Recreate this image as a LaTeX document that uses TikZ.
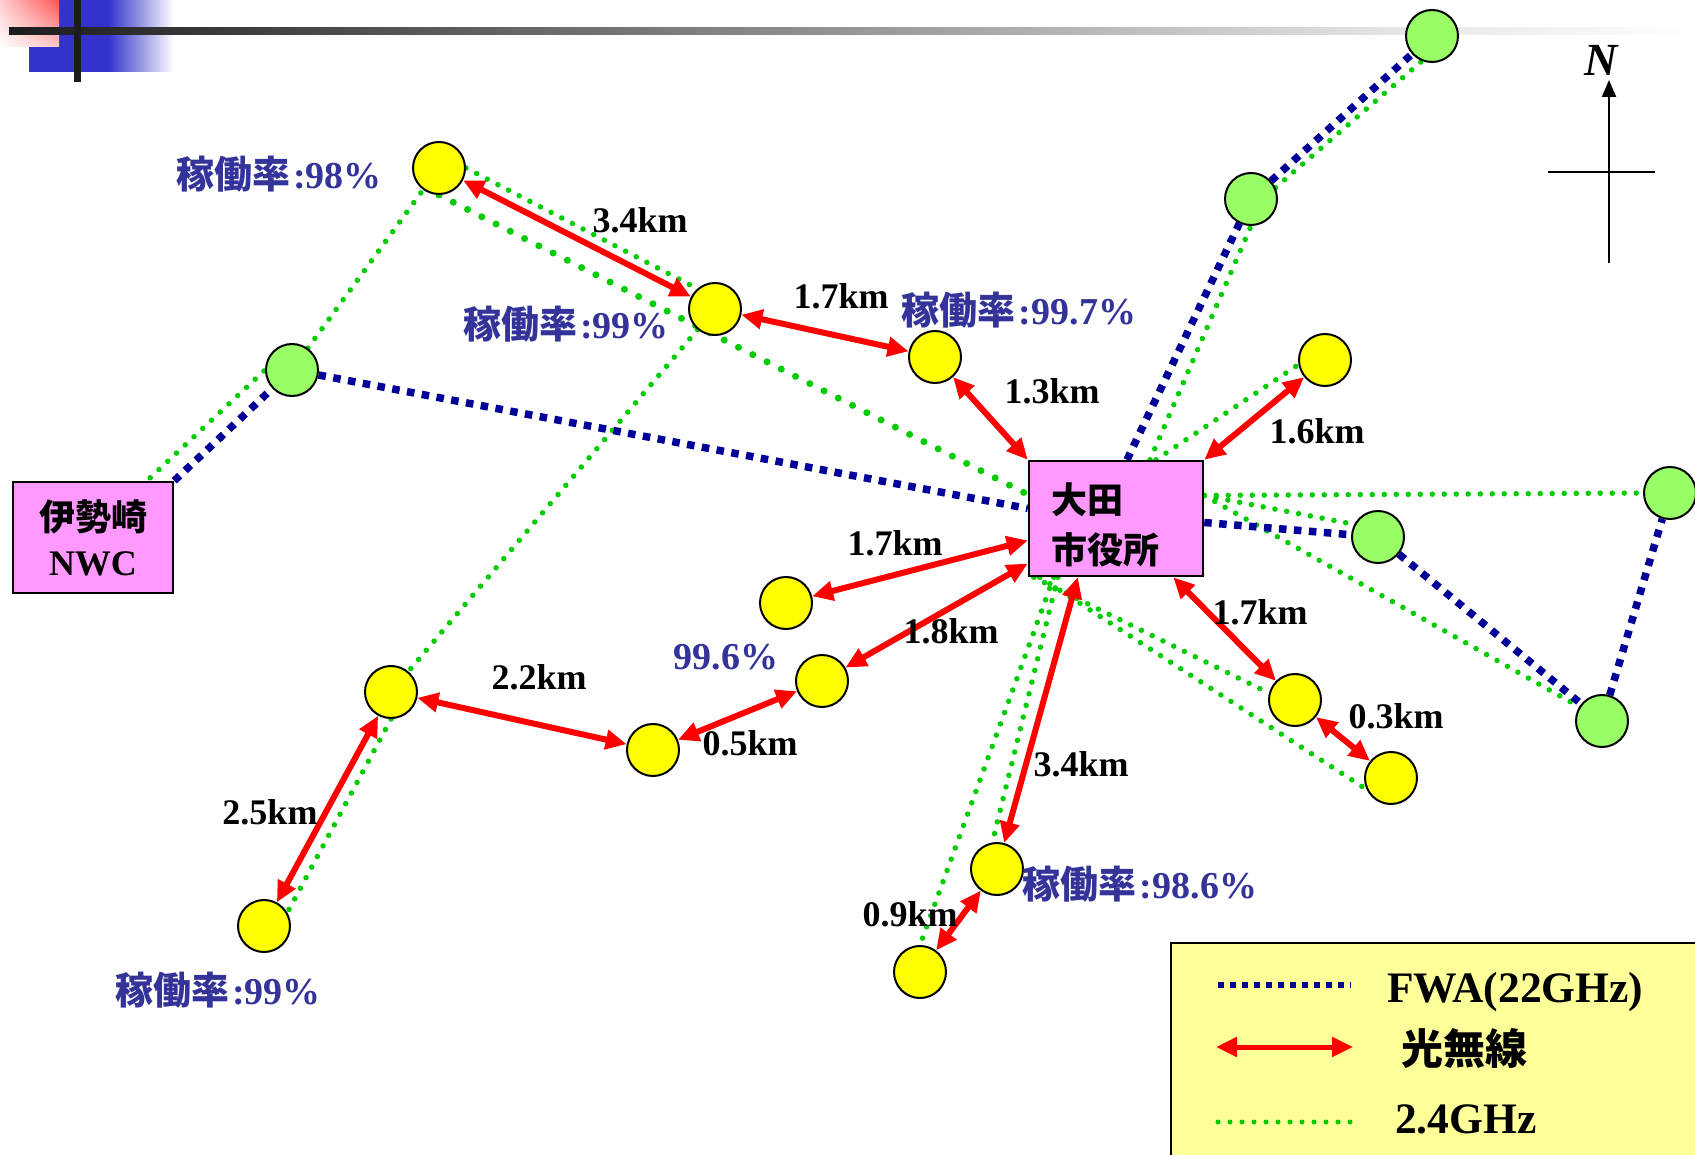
\documentclass[tikz,border=0pt]{standalone}
\usepackage{fontspec}
\setmainfont{Liberation Serif}
\newfontfamily\jp{Noto Sans CJK JP}
\usetikzlibrary{arrows.meta,calc,shadings}
\pgfdeclarelayer{hdr}
\pgfdeclarelayer{bg}
\pgfdeclarelayer{mid}
\pgfsetlayers{hdr,bg,mid,main}
\definecolor{cyel}{RGB}{255,255,0}
\definecolor{cgrn}{RGB}{153,255,102}
\definecolor{cfwa}{RGB}{0,0,153}
\definecolor{cwifi}{RGB}{0,204,0}
\definecolor{cred}{RGB}{255,0,0}
\definecolor{cpink}{RGB}{255,153,255}
\definecolor{clegend}{RGB}{255,255,153}
\definecolor{crate}{RGB}{51,51,153}
\definecolor{chb}{RGB}{51,51,204}
\definecolor{hrA}{RGB}{255,205,205}
\definecolor{hrB}{RGB}{255,85,85}
\definecolor{hrC}{RGB}{255,200,200}
\definecolor{hbar}{RGB}{28,28,28}
\newcommand\kd[2]{{\jp #1}\kern3pt#2}
\begin{document}
\begin{tikzpicture}[x=1pt,y=-1pt,
  ynode/.style={circle,draw=black,line width=2pt,fill=cyel,minimum size=52pt,inner sep=0pt},
  gnode/.style={ynode,fill=cgrn},
  fwa/.style={draw=cfwa,line width=7.5pt,dash pattern=on 7.5pt off 7.5pt},
  wifi/.style={draw=cwifi,line width=5.5pt,line cap=round,dash pattern=on 0pt off 12pt},
  wifithick/.style={draw=cwifi,line width=7pt,line cap=round,dash pattern=on 0pt off 16pt},
  opt/.style={draw=cred,line width=6pt,>={Triangle[length=21pt,width=19pt]},<->},
  dist/.style={font=\bfseries\fontsize{36}{40}\selectfont,inner sep=0pt},
  rate/.style={font=\bfseries\fontsize{38}{42}\selectfont,text=crate,inner sep=0pt},
  legtxt/.style={font=\bfseries\fontsize{43.5}{46}\selectfont,inner sep=0pt},
  ]
\useasboundingbox (0,0) rectangle (1695,1155);

% header decoration
\begin{pgfonlayer}{hdr}
\fill[chb] (29,0) rectangle (108,72);
\shade[left color=chb,right color=white] (108,0) rectangle (174,72);
\shade[upper left=hrA,upper right=hrB,lower left=white,lower right=hrC] (0,0) rectangle (59,47);
\shade[left color=hbar,right color=black!10] (9,28) rectangle (1400,35);
\shade[left color=black!10,right color=white] (1400,28) rectangle (1695,35);
\fill[hbar] (74,0) rectangle (81,82);
\end{pgfonlayer}

% boxes
\node[draw=black,line width=2.5pt,fill=cpink,minimum width=160pt,minimum height=111pt,align=center,
      font=\bfseries\fontsize{36}{45}\selectfont] (nwc) at (93,537.5) {{\jp 伊勢崎}\\NWC};
\node[draw=black,line width=2.5pt,fill=cpink,minimum width=174pt,minimum height=115pt,
      text width=130pt,inner xsep=22pt,align=left,
      font=\jp\bfseries\fontsize{36}{50}\selectfont] (city) at (1116,518.5) {\rule{0pt}{44pt}大田\\市役所};

% sites
\node[ynode] (y1) at (439,168) {};
\node[ynode] (y2) at (715,309) {};
\node[gnode] (g1) at (292,370) {};
\node[ynode] (y3) at (935,357) {};
\node[ynode] (y4) at (1325,360) {};
\node[gnode] (gtop) at (1432,36) {};
\node[gnode] (gup) at (1251,199) {};
\node[gnode] (gfar) at (1670,493) {};
\node[gnode] (gmid) at (1378,537) {};
\node[gnode] (gbr) at (1602,721) {};
\node[ynode] (y5) at (1295,700) {};
\node[ynode] (y6) at (1391,778) {};
\node[ynode] (y7) at (997,869) {};
\node[ynode] (y8) at (920,972) {};
\node[ynode] (y9) at (786,603) {};
\node[ynode] (y10) at (822,681) {};
\node[ynode] (y11) at (653,750) {};
\node[ynode] (y12) at (391,692) {};
\node[ynode] (y13) at (264,926) {};

% 2.4GHz links
\begin{pgfonlayer}{bg}
\draw[wifi] ($(nwc.north east)+(-24,-3)$) -- (g1.west);
\draw[wifi] (g1) -- (y1);
\draw[wifi] (y1.east) -- (y2.131);
\draw[wifithick] (y1.south) -- ($(city.west)+(0,-24)$);
\draw[wifi] (y2) -- (y12);
\draw[wifi] (y12.south) -- (y13.30);
\draw[wifi] ($(city.north)+(34,0)$) -- (gup.south);
\draw[wifi] (gup.25) -- (gtop.248);
\draw[wifi] ($(city.north)+(40,0)$) -- (y4.190);
\draw[wifi] ($(city.east)+(0,-23)$) -- (gfar.west);
\draw[wifi] ($(city.east)+(0,-23)$) -- (gmid.152);
\draw[wifi] ($(city.east)+(0,-23)$) -- (gbr.148);
\draw[wifi] ($(city.south west)+(6,0)$) -- (y5.165);
\draw[wifi] ($(city.south west)+(12,0)$) -- (y6.205);
\draw[wifi] ($(city.south west)+(30,0)$) -- (y7.100);
\draw[wifi] ($(city.south west)+(26,0)$) -- (y8.north);
% FWA links
\draw[fwa] (nwc.north east) -- (g1);
\draw[fwa] (g1) -- ($(city.west)+(0,-10)$);
\draw[fwa] ($(city.north)+(11,0)$) -- (gup);
\draw[fwa] (gup) -- (gtop);
\draw[fwa] ($(city.east)+(0,4)$) -- (gmid);
\draw[fwa] (gmid) -- (gbr);
\draw[fwa] (gbr) -- (gfar);
\end{pgfonlayer}

% optical wireless links
\begin{pgfonlayer}{mid}
\draw[opt] (y1) -- (y2);
\draw[opt] (y2) -- (y3);
\draw[opt] (y3) -- (city.north west);
\draw[opt] (city.north east) -- (y4);
\draw[opt] ($(city.west)+(0,22)$) -- (y9);
\draw[opt] ($(city.west)+(0,45)$) -- (y10);
\draw[opt] (y10) -- (y11);
\draw[opt] (y11) -- (y12);
\draw[opt] (y12) -- (y13);
\draw[opt] ($(city.south west)+(50,0)$) -- (y7);
\draw[opt] (y7) -- (y8);
\draw[opt] ($(city.south east)+(-31,0)$) -- (y5);
\draw[opt] (y5) -- (y6);
\end{pgfonlayer}

% distance labels
\node[dist] (d1) at (640,220) {3.4km};
\node[dist] (d2) at (841,296) {1.7km};
\node[dist] (d3) at (1052,391) {1.3km};
\node[dist] (d4) at (1317,431) {1.6km};
\node[dist] (d5) at (895,543) {1.7km};
\node[dist] (d6) at (951,631) {1.8km};
\node[dist] (d7) at (750,743) {0.5km};
\node[dist] (d8) at (539,677) {2.2km};
\node[dist] (d9) at (270,812) {2.5km};
\node[dist] (d10) at (1081,764) {3.4km};
\node[dist] (d11) at (910,914) {0.9km};
\node[dist] (d12) at (1260,612) {1.7km};
\node[dist] (d13) at (1396,716) {0.3km};

% availability labels
\node[rate] (r1) at (279,174) {\kd{稼働率}{:98\%}};
\node[rate] (r2) at (566,324) {\kd{稼働率}{:99\%}};
\node[rate] (r3) at (1019,310) {\kd{稼働率}{:99.7\%}};
\node[rate] (r4) at (726,657) {99.6\%};
\node[rate] (r5) at (1140,884) {\kd{稼働率}{:98.6\%}};
\node[rate] (r6) at (218,990) {\kd{稼働率}{:99\%}};

% compass
\draw[line width=2pt,-{Triangle[length=17pt,width=14pt]}] (1609,263) -- (1609,80);
\draw[line width=2pt] (1548,172) -- (1655,172);
\node[font=\bfseries\itshape\fontsize{46}{50}\selectfont,inner sep=0pt] (nlabel) at (1601,60) {N};

% legend
\draw[fill=clegend,line width=2pt] (1171,943) rectangle (1715,1175);
\coordinate (la1) at (1218,985);
\coordinate (la2) at (1351,985);
\draw[fwa,line width=6pt,dash pattern=on 6pt off 6pt] (la1) -- (la2);
\node[legtxt,anchor=base west] (lt1) at (1387,1002) {FWA(22GHz)};
\coordinate (lb1) at (1216,1047);
\coordinate (lb2) at (1353,1047);
\draw[opt,line width=5pt] (lb1) -- (lb2);
\node[legtxt,anchor=base west,font=\jp\bfseries\fontsize{42}{46}\selectfont] (lt2) at (1401,1064) {光無線};
\coordinate (lc1) at (1218,1122);
\coordinate (lc2) at (1351,1122);
\draw[wifi,line width=5pt,dash pattern=on 0pt off 12pt] (lc1) -- (lc2);
\node[legtxt,anchor=base west] (lt3) at (1395,1133) {2.4GHz};
\end{tikzpicture}
\end{document}
